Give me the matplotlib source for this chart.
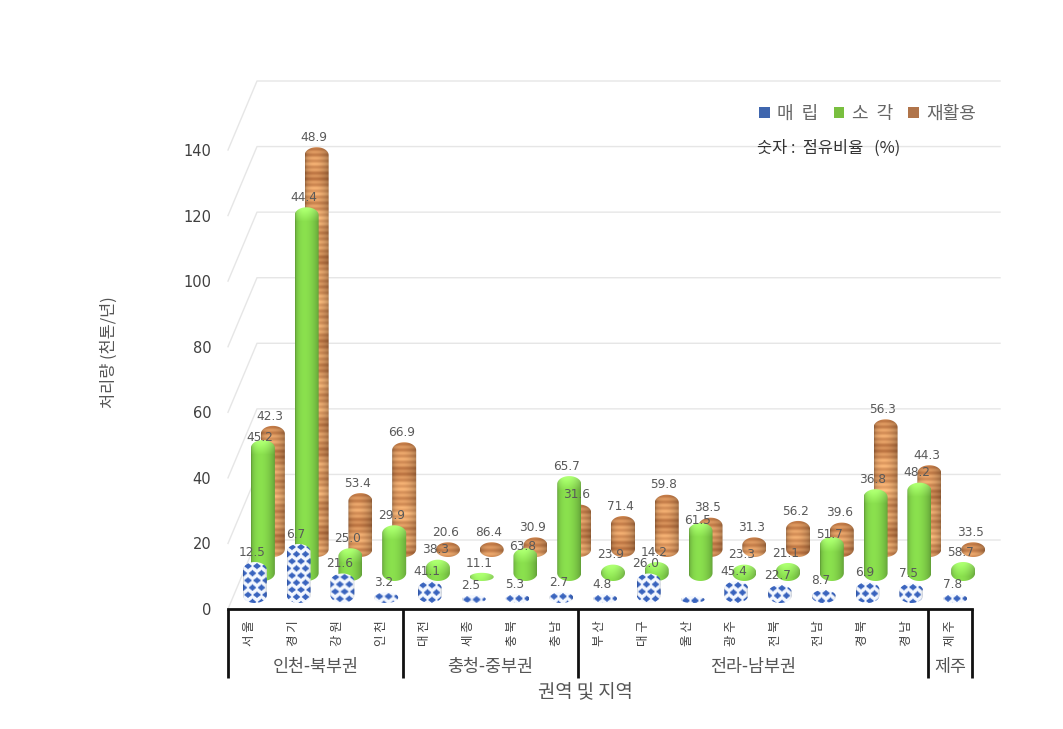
"""Waste treatment by region, drawn as fake 3D cylinders in three depth rows."""
import matplotlib
matplotlib.use("Agg")
import matplotlib.pyplot as plt
import numpy as np
from matplotlib.patches import Patch, PathPatch
from matplotlib.path import Path

plt.rcParams["font.family"] = ["Noto Sans CJK KR", "DejaVu Sans"]

REGIONS = ["서 울", "경 기", "강 원", "인 천", "대 전", "세 종", "충 북", "충 남", "부 산",
           "대 구", "울 산", "광 주", "전 북", "전 남", "경 북", "경 남", "제 주"]
GROUPS = ["인천-북부권", "충청-중부권", "전라-남부권", "제주"]
GROUP_SIZES = [4, 4, 8, 1]

# heights (thousand tons / year)
LANDFILL = [12.5, 18, 9, 3.3, 6.7, 2.4, 2.7, 3.3, 2.7, 9, 2.1, 6.7, 5.5, 4, 6.4, 6, 2.7]
INCINERATION = [43, 114, 10, 17, 6.5, 2.5, 10, 32, 5, 5.8, 17.7, 5, 5.5, 13.4, 28, 30, 5.8]
RECYCLING = [40, 125, 19.5, 35, 4.5, 4.5, 6, 16, 12.5, 19, 12, 6, 11, 10.5, 42, 28, 4.5]

# share labels (%), no label for the landfill share of 울산
LANDFILL_PCT = ["12.5", "6.7", "21.6", "3.2", "41.1", "2.5", "5.3", "2.7", "4.8",
                "26.0", "", "45.4", "22.7", "8.7", "6.9", "7.5", "7.8"]
INCINERATION_PCT = ["45.2", "44.4", "25.0", "29.9", "38.3", "11.1", "63.8", "65.7", "23.9",
                    "14.2", "61.5", "23.3", "21.1", "51.7", "36.8", "48.2", "58.7"]
RECYCLING_PCT = ["42.3", "48.9", "53.4", "66.9", "20.6", "86.4", "30.9", "31.6", "71.4",
                 "59.8", "38.5", "31.3", "56.2", "39.6", "56.3", "44.3", "33.5"]

SERIES_NAMES = ["매  립", "소  각", "재활용"]
YTICKS = [0, 20, 40, 60, 80, 100, 120, 140]

W, H = 1063, 729
X0, X1 = 228, 972    # axes edges in pixels
Y0, Y1 = 609, 150
PX_X = (X1 - X0) / len(REGIONS)
PX_Y = (Y0 - Y1) / 140

BAR_W = 24 / PX_X
CAP = 8 / PX_Y
WALL_DX = 29 / PX_X
WALL_DY = 69 / PX_Y

# these green labels sit right on the top of their bar in the original
HUGGING = {"45.2", "61.5", "63.8", "51.7"}


def shade(width):
    t = np.linspace(0, 1, width)
    return 0.78 + 0.3 * np.sin(np.pi * t ** 0.75) ** 0.7


def green_texture(w, h):
    s = shade(w)[None, :, None]
    rgb = np.array([128, 208, 72]) / 255 * s
    img = np.repeat(rgb, h, axis=0)
    cap = np.clip(1 - np.arange(h) / 14, 0, 1)[:, None, None]
    return np.clip(img + cap * 0.16, 0, 1)


def brown_texture(w, h):
    rows = np.arange(h)
    grain = 0.35 + 0.2 * np.sin(rows * 1.05) + 0.18 * np.sin(rows * 0.23 + 1) + 0.12 * np.sin(rows * 0.07)
    base = np.array([232, 170, 112]) / 255
    dark = np.array([160, 92, 48]) / 255
    img = base + (dark - base) * grain[:, None, None]
    img = np.repeat(img, w, axis=1) * shade(w)[None, :, None]
    return np.clip(img, 0, 1)


def blue_texture(w, h):
    xx, yy = np.meshgrid(np.arange(w), np.arange(h))
    px, py = 9, 7
    ox = np.abs((xx + (yy // py % 2) * px / 2) % px - px / 2) / (px / 2)
    oy = np.abs(yy % py - py / 2) / (py / 2)
    blend = np.clip((1.05 - (ox + oy)) * 3, 0, 1)[:, :, None]
    white = np.array([244, 248, 255]) / 255
    blue = np.array([58, 100, 190]) / 255
    img = white + (blue - white) * blend
    edge = np.clip(shade(w) + 0.1, 0, 1)[None, :, None]
    return np.clip(img * edge, 0, 1)


def cylinder(ax, cx, base, value, texture, zorder):
    r = min(CAP, value / 2)
    t = np.linspace(0, np.pi, 40)
    top_x = cx + BAR_W / 2 * np.cos(t)
    top_y = base + value - r + r * np.sin(t)
    bot_x = cx - BAR_W / 2 * np.cos(t)
    bot_y = base + r - r * np.sin(t)
    verts = np.column_stack([np.r_[top_x, bot_x], np.r_[top_y, bot_y]])
    verts = np.vstack([verts, verts[0]])
    codes = [Path.MOVETO] + [Path.LINETO] * (len(verts) - 2) + [Path.CLOSEPOLY]
    outline = PathPatch(Path(verts, codes), transform=ax.transData, fc="none", ec="none", clip_on=False)
    ax.add_patch(outline)

    h = max(int(value * PX_Y), 4)
    w = int(BAR_W * PX_X)
    im = ax.imshow(texture(w, h), extent=(cx - BAR_W / 2, cx + BAR_W / 2, base, base + value),
                   aspect="auto", interpolation="bilinear", zorder=zorder)
    # images are cut at the axes box otherwise, some bars stand above and beside it
    im.set_clip_box(ax.figure.bbox)
    im.set_clip_path(outline)


def draw_walls(ax, n):
    for t in YTICKS:
        ax.plot([-0.5, -0.5 + WALL_DX, n - 0.5 + 28 / PX_X], [t, t + WALL_DY, t + WALL_DY],
                color="#e6e6e6", lw=1, clip_on=False, zorder=1)


def main():
    fig = plt.figure(figsize=(W / 100, H / 100), dpi=100)
    ax = fig.add_axes([X0 / W, 1 - Y0 / H, (X1 - X0) / W, (Y0 - Y1) / H])

    n = len(REGIONS)
    x = np.arange(n)
    draw_walls(ax, n)

    # back row first so the front rows overlap it
    rows = [
        (RECYCLING, RECYCLING_PCT, brown_texture, 23 / PX_X, 52 / PX_Y),
        (INCINERATION, INCINERATION_PCT, green_texture, 13 / PX_X, 28 / PX_Y),
        (LANDFILL, LANDFILL_PCT, blue_texture, 5 / PX_X, 6 / PX_Y),
    ]
    for k, (values, pcts, texture, dx, dy) in enumerate(rows):
        for i, v in enumerate(values):
            cylinder(ax, x[i] + dx, dy, v, texture, 3 + k)
            if pcts[i]:
                lift = 1.5 if pcts[i] in HUGGING else 7
                ax.annotate(pcts[i], (x[i] + dx, dy + v), xytext=(-2, lift), textcoords="offset points",
                            ha="center", va="center", fontsize=8.7, family="DejaVu Sans",
                            color="#595959", zorder=10, annotation_clip=False)

    ax.set_xlim(-0.5, n - 0.5)
    ax.set_ylim(0, 140)

    for side in ["top", "right", "left"]:
        ax.spines[side].set_visible(False)
    ax.spines["bottom"].set_linewidth(2)
    ax.spines["bottom"].set_color("#111111")
    ax.patch.set_alpha(0)

    ax.set_yticks(YTICKS)
    ax.set_yticklabels(YTICKS, fontsize=10.5, family="DejaVu Sans", color="#404040")
    ax.tick_params(axis="y", length=0, pad=12)
    ax.set_xticks(x)
    ax.set_xticklabels(REGIONS, rotation=90, fontsize=9, color="#404040")
    ax.tick_params(axis="x", length=0, pad=8)

    # group brackets under the axis
    edges = np.r_[0, np.cumsum(GROUP_SIZES)] - 0.5
    for e in edges:
        ax.plot([e, e], [0, -69 / PX_Y], color="#111111", lw=2, clip_on=False,
                solid_capstyle="butt", zorder=6)
    for name, a, b in zip(GROUPS, edges[:-1], edges[1:]):
        ax.text((a + b) / 2, -58 / PX_Y, name, ha="center", va="center", fontsize=12.5,
                color="#555555", clip_on=False)

    fig.text(585 / W, 1 - 693 / H, "권역 및 지역", ha="center", va="center", fontsize=13.5, color="#555555")
    fig.text(109 / W, 1 - 352 / H, "처리량 (천톤/년)", rotation=90, ha="center", va="center",
             fontsize=11.8, color="#555555")
    fig.text(757 / W, 1 - 148 / H, "숫자 :  점유비율   (%)", ha="left", va="center", fontsize=11.8, color="#333333")

    handles = [Patch(fc="#3f66ae"), Patch(fc="#79bf3f"), Patch(fc="#b0744a")]
    ax.legend(handles, SERIES_NAMES, ncol=3, frameon=False, fontsize=13, labelcolor="#666666",
              loc="center left", bbox_to_anchor=(759 / W, 1 - 114 / H), bbox_transform=fig.transFigure,
              handlelength=0.6, handleheight=0.55, handletextpad=0.4, columnspacing=0.85, borderpad=0,
              borderaxespad=0)

    fig.savefig("out.png", dpi=100)
    plt.close(fig)


if __name__ == "__main__":
    main()
